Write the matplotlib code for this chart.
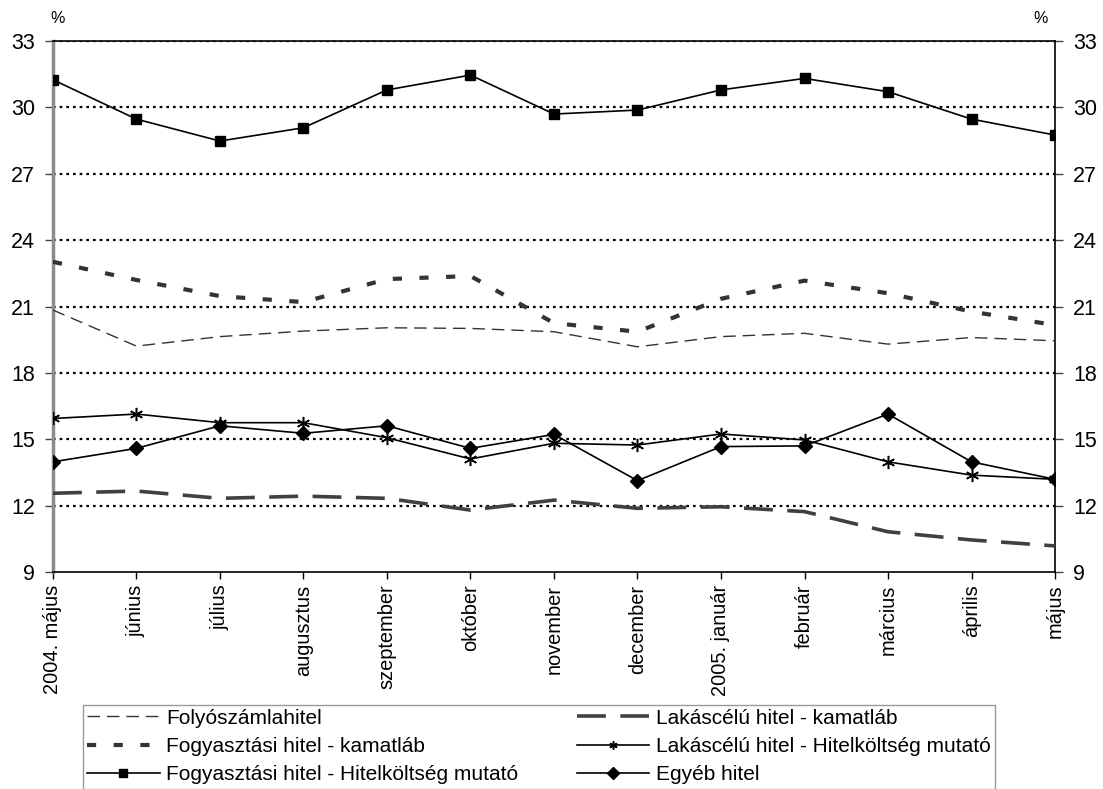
import numpy as np
import matplotlib.pyplot as plt

plt.rcParams['font.family'] = ['Liberation Sans', 'DejaVu Sans']

# Havi adatok, 2004. május - 2005. május
honapok = ['2004. május', 'június', 'július', 'augusztus', 'szeptember',
           'október', 'november', 'december', '2005. január', 'február',
           'március', 'április', 'május']

folyoszamla = [20.84, 19.21, 19.64, 19.89, 20.04, 20.01, 19.86, 19.18,
               19.64, 19.79, 19.30, 19.60, 19.45]
fogy_kamat = [23.02, 22.20, 21.47, 21.20, 22.24, 22.38, 20.25, 19.86,
              21.35, 22.17, 21.60, 20.77, 20.16]
fogy_thm = [31.25, 29.47, 28.48, 29.08, 30.79, 31.46, 29.70, 29.88,
            30.79, 31.31, 30.71, 29.47, 28.75]
lakas_kamat = [12.56, 12.66, 12.33, 12.43, 12.33, 11.80, 12.25, 11.88,
               11.95, 11.73, 10.82, 10.45, 10.18]
lakas_thm = [15.94, 16.14, 15.75, 15.75, 15.07, 14.11, 14.82, 14.74,
             15.24, 14.97, 13.98, 13.38, 13.19]
egyeb = [13.98, 14.59, 15.61, 15.27, 15.61, 14.59, 15.22, 13.13,
         14.67, 14.70, 16.14, 13.98, 13.19]

y_ticks = [9, 12, 15, 18, 21, 24, 27, 30, 33]

fig = plt.figure(figsize=(11.03, 7.89), dpi=100)
ax = fig.add_axes([0.048, 0.275, 0.9085, 0.673])
x = np.arange(len(honapok))

# vízszintes pontozott rácsvonalak
for v in y_ticks[1:]:
    ax.axhline(v, color='black', lw=1.6, ls=(0, (1.2, 1.8)), zorder=1)

l1, = ax.plot(x, folyoszamla, color='#333333', lw=1.0, ls=(0, (9, 5)),
              label='Folyószámlahitel', zorder=3)
l2, = ax.plot(x, fogy_kamat, color='#333333', lw=3.0, ls=(0, (2.2, 4.2)),
              label='Fogyasztási hitel - kamatláb', zorder=3)
l3, = ax.plot(x, fogy_thm, color='black', lw=1.2, marker='s', ms=7.2,
              label='Fogyasztási hitel - Hitelköltség mutató', zorder=4)
l4, = ax.plot(x, lakas_kamat, color='#404040', lw=2.6, ls=(0, (8, 4)),
              label='Lakáscélú hitel - kamatláb', zorder=3)
l5, = ax.plot(x, lakas_thm, color='black', lw=1.2, marker=(6, 2, 0), ms=9.5,
              mew=1.1, label='Lakáscélú hitel - Hitelköltség mutató', zorder=4)
l6, = ax.plot(x, egyeb, color='black', lw=1.2, marker='D', ms=7,
              label='Egyéb hitel', zorder=4)

ax.set_xlim(0, len(honapok) - 1)
ax.set_ylim(9, 33)
ax.set_yticks(y_ticks)
ax.set_xticks(x)
ax.set_xticklabels(honapok, rotation=90, fontsize=14.4)
ax.tick_params(axis='y', labelsize=15.5, length=6, width=1, pad=7,
               right=True, labelright=True, color='#444444')
ax.tick_params(axis='x', length=5, width=1, pad=4)

ax.spines['left'].set_color('#8c8c8c')
ax.spines['left'].set_linewidth(2.5)
for s in ['right', 'top', 'bottom']:
    ax.spines[s].set_color('black')
    ax.spines[s].set_linewidth(1.2)

fig.text(0.0525, 0.977, '%', fontsize=11.5, ha='center', va='center')
fig.text(0.943, 0.977, '%', fontsize=11.5, ha='center', va='center')

leg = fig.legend(handles=[l1, l2, l3, l4, l5, l6], ncol=2,
                 loc='upper left', bbox_to_anchor=(0.075, 0.107),
                 fontsize=15, frameon=True, fancybox=False,
                 handlelength=3.5, handletextpad=0.3, columnspacing=2.8,
                 borderpad=0.2, labelspacing=0.45, borderaxespad=0)
leg.get_frame().set_edgecolor('#808080')
leg.get_frame().set_linewidth(1.0)
for h in leg.legend_handles:
    if h.get_marker() not in (None, 'None', ''):
        h.set_markersize(6)

fig.savefig('out.png', dpi=100)
